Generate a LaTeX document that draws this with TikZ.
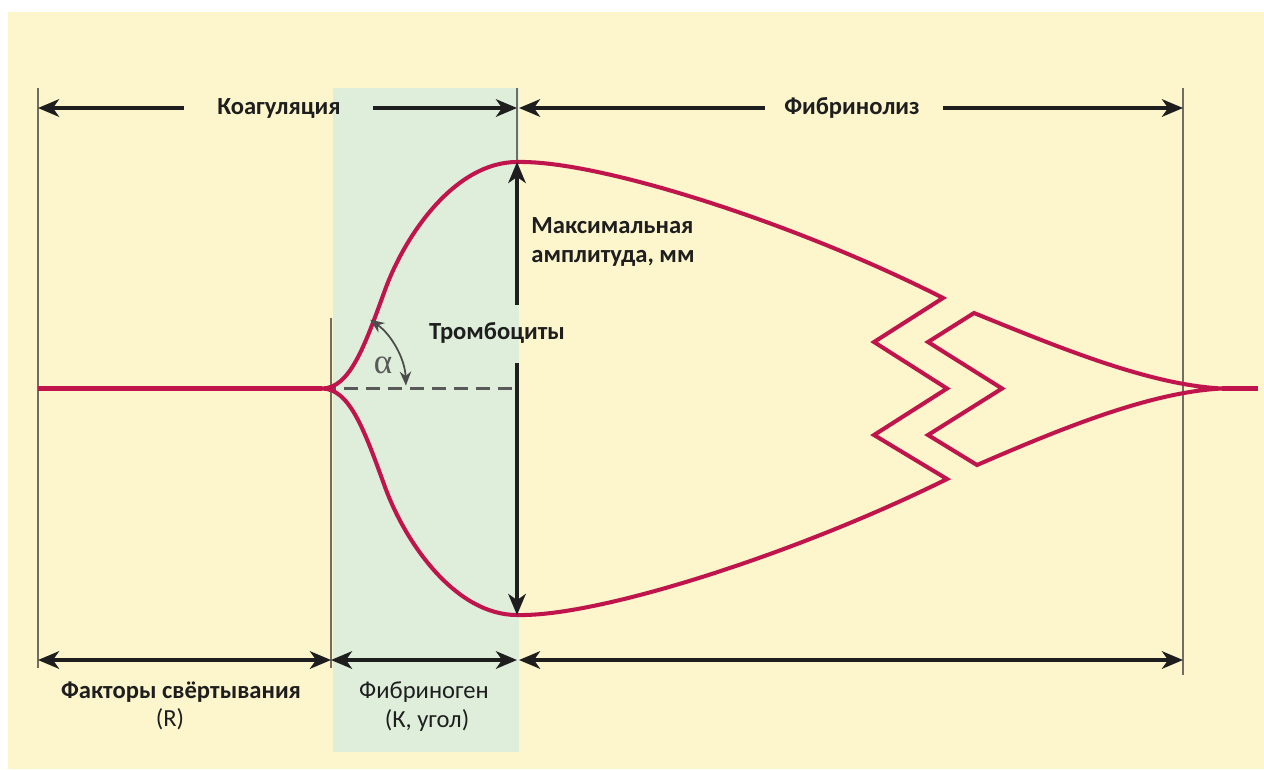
\documentclass[tikz,border=0pt]{standalone}
\usepackage{fontspec}
\setmainfont{Carlito}
\newfontfamily\greekserif{Liberation Serif}
\usetikzlibrary{arrows.meta}
\definecolor{bgyellow}{HTML}{FDF5CC}
\definecolor{bandgreen}{HTML}{DEEEDB}
\definecolor{tracered}{HTML}{C0144C}
\definecolor{rulegray}{HTML}{726D64}
\definecolor{inkdark}{HTML}{1E1E1E}

\tikzset{
  rule/.style={line width=1.5pt, draw=rulegray},
  trace/.style={line width=2.3pt, draw=tracered, line join=miter},
  span/.style={line width=1.8pt, draw=inkdark, -{Stealth[length=12pt,width=10pt,inset=3.5pt]}},
  spans/.style={line width=1.8pt, draw=inkdark, {Stealth[length=12pt,width=10pt,inset=3.5pt]}-{Stealth[length=12pt,width=10pt,inset=3.5pt]}},
  lbl/.style={font=\fontsize{14}{16}\selectfont\bfseries, text=inkdark, inner sep=0pt},
  sublbl/.style={font=\fontsize{14}{16}\selectfont, text=inkdark, inner sep=0pt}
}

\begin{document}
\begin{tikzpicture}[x=0.02cm,y=-0.02cm]
\useasboundingbox (0,0) rectangle (1264,769);
% Background
\fill[white] (0,0) rectangle (1264,769);
\fill[bgyellow] (8,12) rectangle (1264,769);
\fill[bandgreen] (333,88) rectangle (519,752);

% Points
\coordinate (split) at (322,388.5);
\coordinate (top) at (517,162);
\coordinate (bottom) at (517,615);
\coordinate (tip) at (1222,388.5);

% Boundaries
\draw[rule] (38,88) -- (38,668);
\draw[rule] (331,318) -- (331,668);
\draw[rule] (517,88) -- (top);
\draw[rule] (1183,88) -- (1183,675);

% Baseline of the angle
\draw[line width=1.3pt, draw=black!65, dash pattern=on 8pt off 4.5pt] (split) -- (517,388.5);

% Trace
\draw[trace] (38,388.5) -- (split);
\draw[trace] (split) .. controls (350,388.5) and (365,345) .. (385,290)
  .. controls (405,235) and (455,162) .. (top)
  .. controls (600,160) and (800,225) .. (943,298)
  -- (874,342) -- (947,388.5) -- (874,435) -- (947,479)
  .. controls (800,552) and (600,617) .. (bottom)
  .. controls (455,615) and (405,542) .. (385,487)
  .. controls (365,432) and (350,388.5) .. (split);
\draw[trace] (tip) .. controls (1150,385) and (1060,348) .. (974,313)
  -- (928,342) -- (1002,388.5) -- (928,435) -- (977,465)
  .. controls (1060,429) and (1150,392) .. (tip);
\draw[trace] (tip) -- (1258,388.5);

% Angle
\draw[line width=1pt, draw=black!70, {Stealth[length=8pt,width=6.5pt]}-{Stealth[length=8pt,width=6.5pt]}]
  (split) ++(-55:84) arc (-55:-2:84);
\node[text=black!65, font=\greekserif\fontsize{20}{20}\selectfont] (alpha) at (383,365) {α};

% Labels
\node[lbl] (coag) at (279,108) {Коагуляция};
\node[lbl] (fibrinolysis) at (852,108) {Фибринолиз};
\node[lbl, anchor=west, align=left] (maxamp) at (531,242) {Максимальная\\амплитуда, мм};
\node[lbl] (platelets) at (497,333) {Тромбоциты};
\node[lbl] (factors) at (181,692) {Факторы свёртывания};
\node[sublbl] (rtime) at (170,719) {(R)};
\node[sublbl] (fibrinogen) at (424,692) {Фибриноген};
\node[sublbl] (ktime) at (427,720) {(К, угол)};

% Amplitude
\draw[span] (517,305) -- (top);
\draw[span] (517,363) -- (bottom);

% Top spans
\coordinate (tl) at (38,108);
\coordinate (tm) at (517,108);
\coordinate (tm2) at (519,108);
\coordinate (tr) at (1183,108);
\draw[span] ([xshift=-19pt]coag.west) -- (tl);
\draw[span] ([xshift=18pt]coag.east) -- (tm);
\draw[span] ([xshift=-11pt]fibrinolysis.west) -- (tm2);
\draw[span] ([xshift=13pt]fibrinolysis.east) -- (tr);

% Bottom spans
\coordinate (bl) at (38,660);
\coordinate (bk) at (331,660);
\coordinate (bm) at (517,660);
\coordinate (bm2) at (519,660);
\coordinate (br) at (1183,660);
\draw[spans] (bl) -- (bk);
\draw[spans] (bk) -- (bm);
\draw[spans] (bm2) -- (br);
\end{tikzpicture}
\end{document}
